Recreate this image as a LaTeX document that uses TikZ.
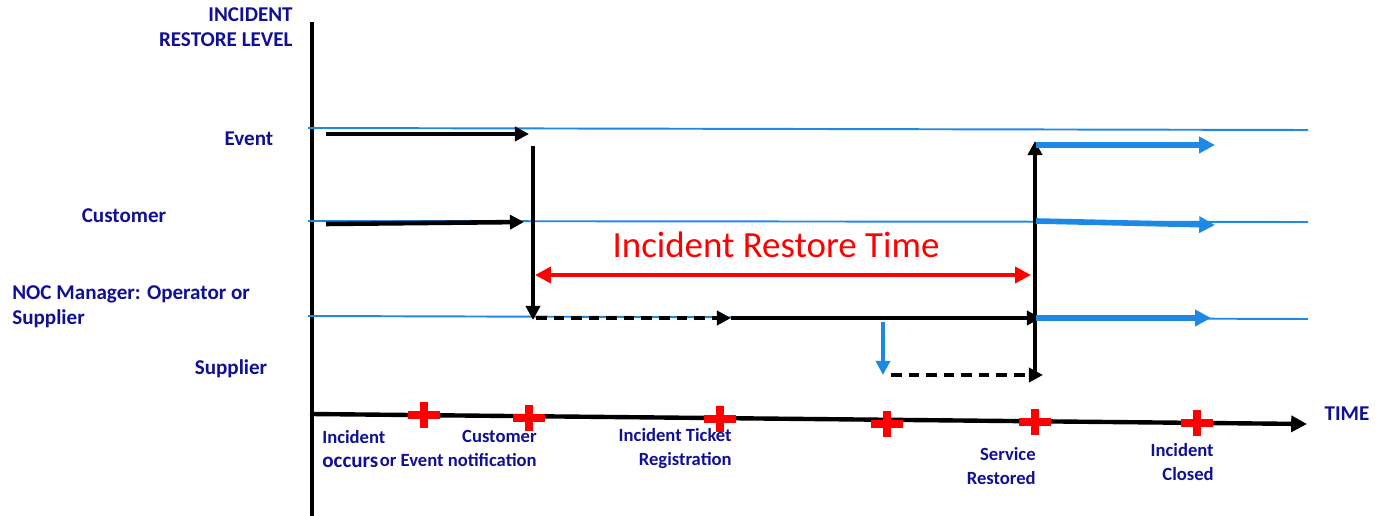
\documentclass[tikz,border=0pt]{standalone}
\usepackage{fontspec}
\setmainfont{Carlito}
\usetikzlibrary{arrows.meta, positioning}
\definecolor{navy}{RGB}{16,16,150}
\definecolor{lineblue}{RGB}{30,136,229}
\tikzset{
  lvl/.style={font=\bfseries\fontsize{12}{14.5}\selectfont, text=navy, inner sep=0pt},
  evt/.style={font=\bfseries\fontsize{10.6}{13.5}\selectfont, text=navy, inner sep=0pt, align=right},
  axis/.style={line width=2.5pt},
  level/.style={lineblue, line width=1.1pt},
  flow/.style={-{Triangle[length=8pt,width=8pt]}, line width=2.6pt},
  dflow/.style={flow, dashed, dash pattern=on 6pt off 4pt, line width=2.2pt},
  bflow/.style={lineblue, -{Triangle[length=9pt,width=9pt]}, line width=3.2pt},
  redplus/.pic={\fill[red] (-16,-4) rectangle (16,4); \fill[red] (-4,-13) rectangle (4,13);}
}
\begin{document}
\begin{tikzpicture}[x=0.02cm, y=-0.02cm, >=Stealth]
\useasboundingbox (0,0) rectangle (1376,516);
% axes
\coordinate (ytop) at (312,22);
\coordinate (ybot) at (312,516);
\coordinate (t0) at (310,414);
\coordinate (t1) at (1307,424);
\draw[axis] (ytop) -- (ybot);
\draw[axis, -{Triangle[length=9pt,width=9pt]}] (t0) -- (t1);
\node[lvl, align=right, anchor=north east] (ylabel) at (293,7) {INCIDENT\\RESTORE LEVEL};
\node[lvl] (timelbl) at (1347,414) {TIME};
% levels
\node[lvl] (lev1) at (249,139) {Event};
\node[lvl] (lev2) at (124,216) {Customer};
\node[lvl, align=left, anchor=north west] (lev3) at (12,285) {NOC Manager: Operator or\\Supplier};
\node[lvl] (lev4) at (231,369) {Supplier};
\coordinate (e0) at (308,128);  \coordinate (e1) at (1308,130);
\coordinate (c0) at (308,221);  \coordinate (c1) at (1308,222);
\coordinate (n0) at (308,316);  \coordinate (n1) at (1308,319);
\draw[level] (e0) -- (e1);
\draw[level] (c0) -- (c1);
\draw[level] (n0) -- (n1);
% incident path
\coordinate (ev0) at (326,134);  \coordinate (ev1) at (529,134);
\coordinate (cu0) at (326,224);  \coordinate (cu1) at (524,222);
\coordinate (dn0) at (533,146);  \coordinate (dn1) at (533,320);
\coordinate (dsh0) at (536,318); \coordinate (dsh1) at (731,318);
\coordinate (rs0) at (1041,318);
\coordinate (sp0) at (883,322);  \coordinate (sp1) at (883,375);
\coordinate (sp2) at (891,375);  \coordinate (sp3) at (1043,375);
\coordinate (up0) at (1035,376); \coordinate (up1) at (1035,141);
\draw[flow] (ev0) -- (ev1);
\draw[flow] (cu0) -- (cu1);
\draw[flow, line width=2.2pt] (dn0) -- (dn1);
\draw[dflow] (dsh0) -- (dsh1);
\draw[flow] (dsh1) -- (rs0);
\draw[lineblue, -{Triangle[length=8pt,width=8pt]}, line width=2.8pt] (sp0) -- (sp1);
\draw[dflow] (sp2) -- (sp3);
\draw[flow, line width=2.2pt] (up0) -- (up1);
% restore time
\coordinate (rt0) at (535,275);  \coordinate (rt1) at (1031,275);
\draw[red, line width=2.2pt, {Triangle[length=9pt,width=9pt]}-{Triangle[length=9pt,width=9pt]}] (rt0) -- (rt1);
\node[text=red, font=\fontsize{21}{24}\selectfont, inner sep=0pt] (rtime) at (776,245) {Incident Restore Time};
% restored levels
\coordinate (o1) at (1036,145);  \coordinate (p1) at (1215,145);
\coordinate (o2) at (1036,221);  \coordinate (p2) at (1215,225);
\coordinate (o3) at (1036,318);  \coordinate (p3) at (1211,318);
\draw[bflow] (o1) -- (p1);
\draw[bflow] (o2) -- (p2);
\draw[bflow] (o3) -- (p3);
% milestones
\foreach \mx/\my in {424/415, 529/418, 720/419, 887/424, 1035/422, 1197/423}
  \pic at (\mx,\my) {redplus};
\node[evt, align=left, anchor=north west] (occ) at (322,430) {Incident\\\fontsize{12}{13}\selectfont occurs};
\node[evt, anchor=north east] (notif) at (537,430) {Customer\\or Event notification};
\node[evt, anchor=north east] (ticket) at (732,428) {Incident Ticket\\Registration};
\node[evt, anchor=north east] (restored) at (1036,447) {Service\\Restored};
\node[evt, anchor=north east] (closed) at (1214,443) {Incident\\Closed};
\end{tikzpicture}
\end{document}
